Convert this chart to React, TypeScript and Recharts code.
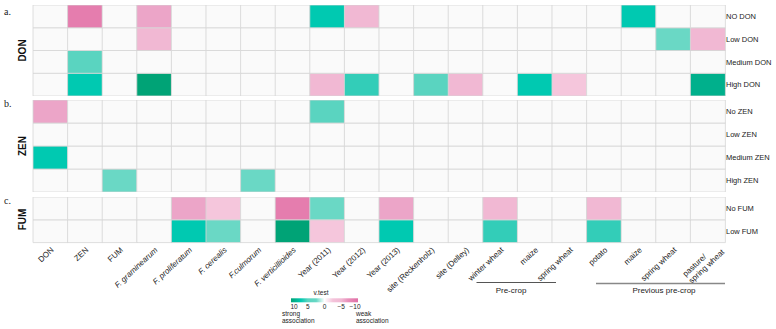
import { Bar, BarChart, Cell, XAxis, YAxis } from "recharts";

// column categories (bottom axis)
const columns = [
    "DON", "ZEN", "FUM", "F. graminearum", "F. proliferatum", "F. cerealis",
    "F.culmorum", "F. verticillioides", "Year (2011)", "Year (2012)", "Year (2013)",
    "site (Reckenholz)", "site (Delley)", "winter wheat", "maize", "spring wheat",
    "potato", "maize", "spring wheat", "pasture/ spring wheat",
];

const donRows = ["NO DON", "Low DON", "Medium DON", "High DON"];
const zenRows = ["No ZEN", "Low ZEN", "Medium ZEN", "High ZEN"];
const fumRows = ["No FUM", "Low FUM"];

// v.test per cell (0 = not significant)
const donNo = [0, -8, 0, -6, 0, 0, 0, 0, 7, -5, 0, 0, 0, 0, 0, 0, 0, 7, 0, 0];
const donLow = [0, 0, 0, -5, 0, 0, 0, 0, 0, 0, 0, 0, 0, 0, 0, 0, 0, 0, 4, -5];
const donMedium = [0, 5, 0, 0, 0, 0, 0, 0, 0, 0, 0, 0, 0, 0, 0, 0, 0, 0, 0, 0];
const donHigh = [0, 7, 0, 10, 0, 0, 0, 0, -5, 6, 0, 5, -5, 0, 7, -4, 0, 0, 0, 9];

const zenNo = [-6, 0, 0, 0, 0, 0, 0, 0, 5, 0, 0, 0, 0, 0, 0, 0, 0, 0, 0, 0];
const zenLow = [0, 0, 0, 0, 0, 0, 0, 0, 0, 0, 0, 0, 0, 0, 0, 0, 0, 0, 0, 0];
const zenMedium = [7, 0, 0, 0, 0, 0, 0, 0, 0, 0, 0, 0, 0, 0, 0, 0, 0, 0, 0, 0];
const zenHigh = [0, 0, 4, 0, 0, 0, 4, 0, 0, 0, 0, 0, 0, 0, 0, 0, 0, 0, 0, 0];

const fumNo = [0, 0, 0, 0, -6, -4, 0, -8, 4, 0, -6, 0, 0, -5, 0, 0, -5, 0, 0, 0];
const fumLow = [0, 0, 0, 0, 7, 4, 0, 10, -4, 0, 7, 0, 0, 6, 0, 0, 6, 0, 0, 0];

const legendTicks = [10, 5, 0, -5, -10];

// colour scale stops: [v.test, hex]
const stops: [number, string][] = [
    [10, "#00a376"], [9, "#00b08c"], [7, "#00c9b1"], [6, "#33cdb8"], [5, "#5ad4c0"],
    [4, "#6ad8c5"], [3.99, "#fafafa"], [-3.99, "#fafafa"], [-4, "#f5c6dc"],
    [-5, "#f1b8d3"], [-6, "#eca5c8"], [-8, "#e57dae"], [-10, "#e06ea5"],
];

const hex = (c: string) => [1, 3, 5].map((i) => parseInt(c.slice(i, i + 2), 16));

function shade(v: number) {
    if (v === 0) return "#fafafa";
    for (let i = 0; i < stops.length - 1; i++) {
        const [a, ca] = stops[i];
        const [b, cb] = stops[i + 1];
        if (v <= a && v >= b) {
            const t = a === b ? 0 : (a - v) / (a - b);
            const A = hex(ca), B = hex(cb);
            return `rgb(${A.map((x, k) => Math.round(x + (B[k] - x) * t)).join(",")})`;
        }
    }
    return v > 0 ? stops[0][1] : stops[stops.length - 1][1];
}

// legend colour (continuous, for the gradient bar)
function legendShade(v: number) {
    if (v === 0) return "#ffffff";
    return shade(v > 0 ? Math.max(v, 4) : Math.min(v, -4));
}

const W = 776;
const PLOT_LEFT = 33;
const LABEL_W = 51;
const AXIS_H = 62;
const ANGLE = -43;

function ColumnTick(props: any) {
    const { x, y, payload } = props;
    const label: string = payload.value;
    const italic = label.startsWith("F.");
    if (label.includes("/ ")) {
        const [a, b] = label.split("/ ");
        return (
            <g transform={`translate(${x + 13},${y + 6}) rotate(${ANGLE})`}>
                <text fontSize={8} fill="#222" stroke="none">
                    <tspan x={-45} dy={-3}>{a + "/"}</tspan>
                    <tspan x={-45} dy={9}>{b}</tspan>
                </text>
            </g>
        );
    }
    return (
        <g transform={`translate(${x + 4},${y + 8}) rotate(${ANGLE})`}>
            <text
                x={0}
                y={0}
                textAnchor="end"
                fontSize={8}
                fontStyle={italic ? "italic" : "normal"}
                fill="#222"
                stroke="none"
            >
                {label}
            </text>
        </g>
    );
}

function RowTick(props: any) {
    const { x, y, payload, labels } = props;
    const n = labels.length;
    return (
        <text x={x + 1} y={y} dy="0.35em" fontSize={7.5} fill="#222" stroke="none" textAnchor="start">
            {labels[n - 1 - Math.floor(payload.value)]}
        </text>
    );
}

interface PanelProps {
    rows: string[];
    values: number[][];
    top: number;
    plotHeight: number;
    showAxis?: boolean;
}

function Panel({ rows, values, top, plotHeight, showAxis }: PanelProps) {
    const n = rows.length;
    const data = columns.map((name) => {
        const d: Record<string, any> = { name };
        rows.forEach((_, i) => (d[`r${i}`] = 1));
        return d;
    });
    // stacked bottom-up, so the last row goes first
    const order = rows.map((_, i) => n - 1 - i);

    return (
        <div style={{ position: "absolute", left: 0, top }}>
            <BarChart
                width={W}
                height={plotHeight + (showAxis ? AXIS_H : 0)}
                data={data}
                margin={{ top: 0, right: 0, bottom: 0, left: PLOT_LEFT }}
                barCategoryGap={0}
                barGap={0}
            >
                <XAxis
                    dataKey="name"
                    hide={!showAxis}
                    interval={0}
                    height={AXIS_H}
                    tickLine={false}
                    axisLine={false}
                    tickSize={0}
                    tickMargin={0}
                    tick={<ColumnTick />}
                />
                <YAxis
                    orientation="right"
                    type="number"
                    domain={[0, n]}
                    ticks={rows.map((_, i) => i + 0.5)}
                    interval={0}
                    width={LABEL_W}
                    tickLine={false}
                    axisLine={false}
                    tickSize={0}
                    tickMargin={0}
                    tick={<RowTick labels={rows} />}
                />
                {order.map((i) => (
                    <Bar
                        key={i}
                        dataKey={`r${i}`}
                        stackId="s"
                        isAnimationActive={false}
                        stroke="#d6d6d6"
                        strokeWidth={0.8}
                    >
                        {values[i].map((v, j) => (
                            <Cell key={j} fill={shade(v)} />
                        ))}
                    </Bar>
                ))}
            </BarChart>
        </div>
    );
}

export default function App() {
    const legendX = (v: number) => 291 + ((10 - v) / 20) * 67;

    return (
        <div
            style={{
                position: "absolute",
                left: 0,
                top: 0,
                width: W,
                height: 329,
                background: "#fff",
                fontFamily: "'Liberation Sans', Arial, sans-serif",
                overflow: "hidden",
            }}
        >
            <Panel rows={donRows} values={[donNo, donLow, donMedium, donHigh]} top={5} plotHeight={91} />
            <Panel rows={zenRows} values={[zenNo, zenLow, zenMedium, zenHigh]} top={100} plotHeight={92} />
            <Panel rows={fumRows} values={[fumNo, fumLow]} top={196.7} plotHeight={45.6} showAxis />

            <svg
                width={W}
                height={329}
                style={{ position: "absolute", left: 0, top: 0, pointerEvents: "none" }}
            >
                <g fontFamily="'Liberation Serif', 'Times New Roman', serif" fontSize={10} fill="#222">
                    <text x={4} y={15}>a.</text>
                    <text x={4} y={107}>b.</text>
                    <text x={4} y={204}>c.</text>
                </g>
                <g fontSize={10} fontWeight="bold" fill="#111" textAnchor="middle">
                    <text transform="translate(26,50.5) rotate(-90)">DON</text>
                    <text transform="translate(26,146) rotate(-90)">ZEN</text>
                    <text transform="translate(26,219.5) rotate(-90)">FUM</text>
                </g>

                {/* crop groupings */}
                <line x1={476.5} x2={556} y1={282.5} y2={282.5} stroke="#555" strokeWidth={1} />
                <text x={511} y={292.5} fontSize={8} textAnchor="middle" fill="#222">Pre-crop</text>
                <line x1={596} x2={725} y1={283.5} y2={283.5} stroke="#888" strokeWidth={1.4} />
                <text x={664} y={293} fontSize={8} textAnchor="middle" fill="#222">Previous pre-crop</text>

                {/* colour legend */}
                <defs>
                    <linearGradient id="vtest" x1="0" y1="0" x2="1" y2="0">
                        {[10, 7, 5, 2.5, 0, -2.5, -5, -7, -10].map((v) => (
                            <stop key={v} offset={`${((10 - v) / 20) * 100}%`} stopColor={legendShade(v === 2.5 || v === -2.5 ? v * 1.7 : v)} />
                        ))}
                    </linearGradient>
                </defs>
                <text x={321} y={295} fontSize={6.5} textAnchor="middle" fill="#222">v.test</text>
                <rect x={291} y={298.3} width={67} height={4} fill="url(#vtest)" />
                <g fontSize={6.5} fill="#222" textAnchor="middle">
                    {legendTicks.map((v) => (
                        <text key={v} x={Math.min(Math.max(legendX(v), 294), 355)} y={309}>
                            {v < 0 ? `\u2212${-v}` : v}
                        </text>
                    ))}
                </g>
                <g fontSize={6.5} fill="#222">
                    <text x={282} y={315.5}>strong</text>
                    <text x={282} y={322.5}>association</text>
                    <text x={356} y={315.5}>weak</text>
                    <text x={356} y={322.5}>association</text>
                </g>
            </svg>
        </div>
    );
}
